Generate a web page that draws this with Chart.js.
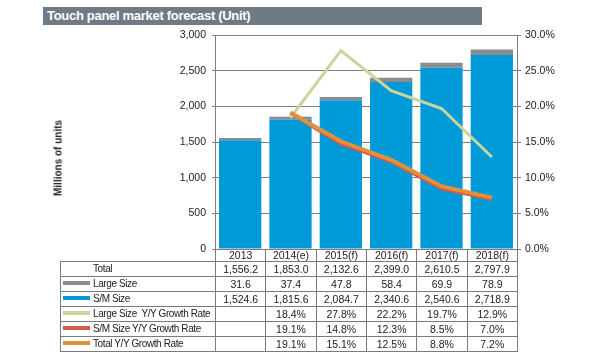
<!DOCTYPE html>
<html>
<head>
<meta charset="utf-8">
<script src="https://cdn.jsdelivr.net/npm/chart.js@4"></script>
<style>
  body { margin:0; background:#fff; font-family: Arial, "Liberation Sans", sans-serif; }
  #wrap { position:relative; width:600px; height:358px; overflow:hidden; }
  #chart { position:absolute; left:0; top:0; }
  #titleBar { position:absolute; left:43px; top:7px; width:439px; height:18px; background:#6f7a87;
    color:#fff; font-weight:bold; font-size:13px; line-height:18px; padding-left:4px; box-sizing:border-box;
    font-family:Arial, "Liberation Sans", sans-serif; letter-spacing:-0.3px; }
  #yTitle { position:absolute; left:58px; top:158px; transform:translate(-50%,-50%) rotate(-90deg);
    font-size:10px; font-weight:bold; color:#222; white-space:nowrap; }
  #tbl { position:absolute; border-collapse:collapse; font-size:10.5px; color:#222; table-layout:fixed; }
  #tbl td { border:1px solid #7a7a7a; padding:0; height:14px; line-height:12px; text-align:center; white-space:nowrap; overflow:hidden; }
  #tbl td.lab { text-align:left; font-size:10px; letter-spacing:-0.4px; }
  #tbl tr.head td { border-top:none; height:12px; }
  #tbl tr.head td.blank { border:none; }
  .sw { display:inline-block; width:27px; height:4px; margin:0 3px 0 2px; vertical-align:middle; position:relative; top:-1px; }
</style>
</head>
<body>
<div id="wrap">
  <canvas id="chart" width="600" height="358"></canvas>
  <div id="titleBar">Touch panel market forecast (Unit)</div>
  <div id="yTitle">Millions of units</div>
  <table id="tbl"></table>
</div>
<script>
let categories = ['2013', '2014(e)', '2015(f)', '2016(f)', '2017(f)', '2018(f)']
let totalUnits = [1556.2, 1853.0, 2132.6, 2399.0, 2610.5, 2797.9]
let largeSize = [31.6, 37.4, 47.8, 58.4, 69.9, 78.9]
let smSize = [1524.6, 1815.6, 2084.7, 2340.6, 2540.6, 2718.9]
let largeGrowth = [null, 18.4, 27.8, 22.2, 19.7, 12.9]
let smGrowth = [null, 19.1, 14.8, 12.3, 8.5, 7.0]
let totalGrowth = [null, 19.1, 15.1, 12.5, 8.8, 7.2]
let leftTicks = [0, 500, 1000, 1500, 2000, 2500, 3000]
let rightTicks = [0, 5, 10, 15, 20, 25, 30]

let colors = {
  large: '#8b8c8e',
  sm: '#009ad9',
  largeGrowth: '#c9d59b',
  smGrowth: '#d35b49',
  totalGrowth: '#e0913c'
}

Chart.defaults.font.family = 'Arial, "Liberation Sans", sans-serif'
Chart.defaults.font.size = 11
Chart.defaults.color = '#222'

/* <><><> chart <><><> */
let chart = new Chart(document.getElementById('chart'), {
  type: 'bar',
  data: {
    labels: categories,
    datasets: [
      { label: 'S/M Size', data: smSize, backgroundColor: colors.sm, stack: 's', yAxisID: 'y', order: 3,
        barPercentage: 0.84, categoryPercentage: 1 },
      { label: 'Large Size', data: largeSize, backgroundColor: colors.large, stack: 's', yAxisID: 'y', order: 3,
        barPercentage: 0.84, categoryPercentage: 1 },
      { type: 'line', label: 'Large Size  Y/Y Growth Rate', data: largeGrowth, borderColor: colors.largeGrowth,
        borderWidth: 3, pointRadius: 0, yAxisID: 'y1', order: 1 },
      { type: 'line', label: 'S/M Size Y/Y Growth Rate', data: smGrowth, borderColor: colors.smGrowth,
        borderWidth: 4, pointRadius: 0, yAxisID: 'y1', order: 2 },
      { type: 'line', label: 'Total Y/Y Growth Rate', data: totalGrowth, borderColor: colors.totalGrowth,
        borderWidth: 4, pointRadius: 0, yAxisID: 'y1', order: 0 }
    ]
  },
  options: {
    responsive: false,
    animation: false,
    layout: { padding: { left: 48, right: 0, top: 35, bottom: 109 } },
    plugins: { legend: { display: false }, tooltip: { enabled: false } },
    scales: {
      x: { display: false, stacked: true },
      y: {
        stacked: true, min: 0, max: 3000,
        afterFit: s => { s.width = 167 },
        afterBuildTicks: s => { s.ticks = leftTicks.map(v => ({ value: v })) },
        ticks: { callback: v => v.toLocaleString('en-US'), padding: 6, font: { size: 10.5 } },
        grid: { color: '#7d7d7d', tickLength: 3 },
        border: { color: '#7d7d7d' }
      },
      y1: {
        position: 'right', min: 0, max: 30,
        afterFit: s => { s.width = 83 },
        afterBuildTicks: s => { s.ticks = rightTicks.map(v => ({ value: v })) },
        ticks: { callback: v => v.toFixed(1) + '%', padding: 4, font: { size: 10.5 } },
        grid: { drawOnChartArea: false, color: '#7d7d7d', tickLength: 4 },
        border: { color: '#7d7d7d' }
      }
    }
  }
})

/* <><><> data table under the chart <><><> */
let area = chart.chartArea
let colW = (area.right - area.left) / categories.length
let labW = area.left - 60
let rows = [
  { name: 'Total', color: null, vals: totalUnits.map(v => v.toLocaleString('en-US', { minimumFractionDigits: 1 })) },
  { name: 'Large Size', color: colors.large, vals: largeSize.map(v => v.toFixed(1)) },
  { name: 'S/M Size', color: colors.sm, vals: smSize.map(v => v.toLocaleString('en-US', { minimumFractionDigits: 1 })) },
  { name: 'Large Size&nbsp; Y/Y Growth Rate', color: colors.largeGrowth, vals: largeGrowth.map(v => v == null ? '' : v.toFixed(1) + '%') },
  { name: 'S/M Size Y/Y Growth Rate', color: colors.smGrowth, vals: smGrowth.map(v => v == null ? '' : v.toFixed(1) + '%') },
  { name: 'Total Y/Y Growth Rate', color: colors.totalGrowth, vals: totalGrowth.map(v => v == null ? '' : v.toFixed(1) + '%') }
]
let cartona = `<colgroup><col style="width:${labW}px">`
categories.forEach(() => { cartona += `<col style="width:${colW}px">` })
cartona += '</colgroup><tr class="head"><td class="blank"></td>'
categories.forEach(c => { cartona += `<td>${c}</td>` })
cartona += '</tr>'
rows.forEach(r => {
  let sw = `<span class="sw" style="background:${r.color || 'transparent'}"></span>`
  cartona += `<tr><td class="lab">${sw}${r.name}</td>`
  r.vals.forEach(v => { cartona += `<td>${v}</td>` })
  cartona += '</tr>'
})
let tbl = document.getElementById('tbl')
tbl.innerHTML = cartona
tbl.style.left = '60px'
tbl.style.top = area.bottom + 'px'
tbl.style.width = (labW + colW * categories.length) + 'px'
</script>
</body>
</html>
